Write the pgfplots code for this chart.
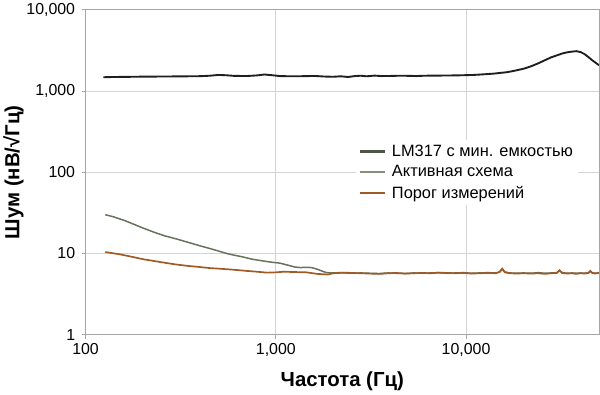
\documentclass[border=0pt]{standalone}
\usepackage{pgfplots}
\pgfplotsset{compat=1.18}
\usepackage{fontspec}
\setmainfont{Liberation Sans}
\definecolor{cBlack}{HTML}{1E211B}
\definecolor{cBlackL}{HTML}{4F5646}
\definecolor{cGreen}{HTML}{66735A}
\definecolor{cOrange}{HTML}{A05A26}
\definecolor{cGrid}{HTML}{D4D4D4}
\definecolor{cFrame}{HTML}{A6A6A6}
\begin{document}
\begin{tikzpicture}
\begin{axis}[
  scale only axis,
  width=517pt, height=327pt,
  xmode=log, ymode=log,
  xmin=100, xmax=50000, ymin=1, ymax=10000,
  log basis x=10, log basis y=10,
  xtick={100,1000,10000}, xticklabels={100,{1,000},{10,000}},
  ytick={1,10,100,1000,10000}, yticklabels={1,10,100,{1,000},{10,000}},
  minor x tick num=0, minor y tick num=0,
  grid=both,
  major grid style={cGrid, line width=0.8pt},
  minor grid style={cGrid, line width=0.6pt},
  axis line style={cFrame, line width=0.9pt},
  tick style={cFrame, line width=0.9pt},
  major tick length=4pt, minor tick length=0pt,
  tick align=outside,
  xtick pos=bottom, ytick pos=left,
  ticklabel style={font=\fontsize{16}{18}\selectfont, text=black},
  yticklabel style={xshift=-3pt},
  xticklabel style={yshift=-1pt},
  /pgf/number format/assume math mode=true,
  xlabel={Частота (Гц)},
  ylabel={Шум (нВ/√Гц)},
  label style={font=\fontsize{20.5}{23}\selectfont\bfseries},
  xlabel style={yshift=-9pt},
  ylabel style={yshift=-4pt},
  legend cell align=left,
  legend style={at={(0.526,0.60)}, anchor=north west, draw=none, fill=white,
    font=\fontsize{16.5}{18}\selectfont, row sep=3.8pt, inner sep=3pt},
  legend image code/.code={\draw[#1] (0pt,0pt) -- (25pt,0pt); \path (29pt,0pt);},
]
\addplot[cBlack, line width=1.9pt, forget plot] coordinates {
(124,1480) (140,1490) (160,1495) (180,1500) (200,1505) (250,1510) (300,1515)
(350,1520) (400,1525) (450,1545) (500,1580) (550,1565) (600,1540) (700,1530)
(800,1560) (870,1600) (950,1570) (1050,1530) (1200,1520) (1400,1525) (1600,1535)
(1800,1510) (2000,1500) (2200,1520) (2400,1490) (2600,1530) (2800,1545) (3000,1520)
(3300,1550) (3600,1530) (4000,1535) (4500,1545) (5000,1540) (5500,1530) (6000,1545)
(7000,1550) (8000,1555) (9000,1560) (10000,1570) (11000,1580) (12000,1600)
(13000,1620) (14000,1640) (15000,1670) (16500,1710) (18000,1780) (20000,1880)
(22000,2020) (24000,2200) (26000,2400) (28000,2600) (30000,2750) (32000,2900)
(34000,3000) (36000,3060) (38000,3100) (40000,3020) (42000,2850) (44000,2620)
(46000,2400) (48000,2230) (50000,2080)
};
\addplot[cGreen, line width=1.5pt, forget plot] coordinates {
(127,30) (140,28.3) (160,25.5) (180,22.8) (200,20.6) (230,18.2) (260,16.5)
(300,15.1) (350,13.6) (400,12.4) (450,11.5) (500,10.7) (560,9.9) (620,9.4)
(665,9.1) (750,8.5) (850,8.1) (950,7.8) (1050,7.6) (1150,7.2) (1260,6.8)
(1350,6.7) (1450,6.75) (1540,6.7) (1650,6.4) (1740,6.1) (1850,5.8) (2000,5.75)
(2200,5.8) (2500,5.7) (2800,5.75) (3100,5.7) (3500,5.65) (3900,5.75) (4300,5.7)
(4800,5.65) (5300,5.75) (5900,5.7) (6500,5.75) (7200,5.8) (8000,5.7) (8800,5.75)
(9700,5.8) (10700,5.7) (11800,5.75) (13000,5.8) (14300,5.75) (15000,5.9)
(15500,6.4) (16000,5.9) (17000,5.75) (18500,5.7) (20000,5.75) (22000,5.7)
(24000,5.8) (26000,5.7) (28000,5.75) (30000,5.8) (31000,6.1) (32000,5.8)
(34000,5.7) (36000,5.75) (38000,5.7) (40000,5.75) (42000,5.7) (44000,5.8)
(45000,6.0) (46000,5.8) (48000,5.7) (50000,5.75)
};
\addplot[cOrange, line width=1.7pt, forget plot] coordinates {
(127,10.4) (150,9.8) (175,9.1) (200,8.5) (250,7.8) (300,7.3) (350,7.0)
(400,6.8) (450,6.6) (500,6.5) (600,6.3) (700,6.1) (800,5.95) (900,5.8)
(1000,5.85) (1100,5.95) (1260,5.9) (1450,5.85) (1650,5.6) (1880,5.5) (2000,5.7)
(2300,5.8) (2500,5.75) (2800,5.7) (3100,5.65) (3500,5.6) (3900,5.7) (4300,5.75)
(4800,5.65) (5300,5.7) (5900,5.75) (6500,5.7) (7200,5.8) (8000,5.75) (8800,5.7)
(9700,5.75) (10700,5.65) (11800,5.7) (13000,5.75) (14300,5.7) (15000,5.9)
(15500,6.5) (16000,5.85) (17000,5.7) (18500,5.65) (20000,5.7) (22000,5.65)
(24000,5.7) (26000,5.6) (28000,5.7) (30000,5.75) (31000,6.2) (32000,5.75)
(34000,5.65) (36000,5.7) (38000,5.6) (40000,5.7) (42000,5.65) (44000,5.75)
(45000,6.1) (46000,5.75) (48000,5.65) (50000,5.8)
};
\addlegendimage{cBlackL, line width=2.4pt}
\addlegendentry{LM317 с мин. емкостью}
\addlegendimage{cGreen!80!white, line width=2.4pt}
\addlegendentry{Активная схема}
\addlegendimage{cOrange, line width=2.4pt}
\addlegendentry{Порог измерений}
\end{axis}
\path[use as bounding box] ([xshift=-82pt,yshift=-59pt]current axis.south west) rectangle ([xshift=1pt,yshift=8pt]current axis.north east);
\end{tikzpicture}
\end{document}
